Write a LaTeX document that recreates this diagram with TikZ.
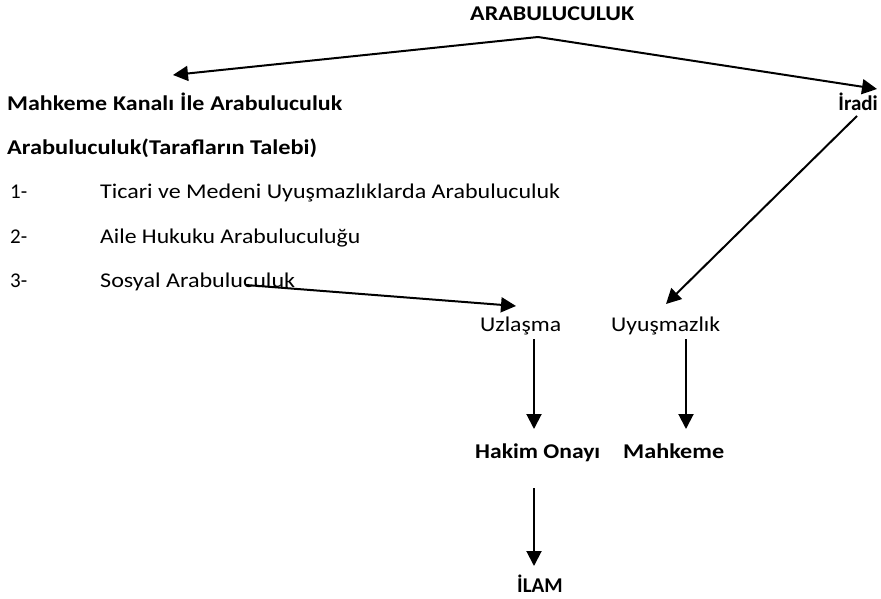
\documentclass[tikz,border=0pt]{standalone}
\usepackage{fontspec}
\setmainfont{Carlito}
\usepackage{graphicx}
\usetikzlibrary{arrows.meta,calc}
\newcommand\fitw[2]{\resizebox{#1pt}{\height}{#2}}
\begin{document}
\begin{tikzpicture}[x=1pt,y=-1pt,
  lbl/.style={inner sep=0pt,anchor=base west,font=\fontsize{21}{25}\selectfont},
  blbl/.style={inner sep=0pt,anchor=base west,font=\fontsize{21}{25}\selectfont\bfseries},
  arr/.style={line width=2pt,-{Triangle[length=15pt,width=15pt]}}]
\useasboundingbox (0,0) rectangle (881,599);
\node[blbl] (top) at (470,21) {\fitw{164}{ARABULUCULUK}};
\node[blbl] (mk) at (7,111) {\fitw{335}{Mahkeme\hspace{0.25em}Kanalı\hspace{0.25em}İle\hspace{0.25em}Arabuluculuk}};
\node[blbl,anchor=base east] (ir) at (878,111) {İradi};
\node[blbl] (tt) at (7,155) {\fitw{310}{Arabuluculuk(Tarafların Talebi)}};
\node[lbl] (n1) at (10,198) {1-};
\node[lbl] (t1) at (100,198) {\fitw{460}{Ticari ve Medeni Uyuşmazlıklarda Arabuluculuk}};
\node[lbl] (n2) at (10,243) {2-};
\node[lbl] (t2) at (100,243) {\scalebox{1.13}[1]{Aile Hukuku Arabuluculuğu}};
\node[lbl] (n3) at (10,287) {3-};
\node[lbl] (t3) at (100,287) {\fitw{195}{Sosyal Arabuluculuk}};
\node[lbl] (uz) at (480,331) {\fitw{81}{Uzlaşma}};
\node[lbl] (uy) at (611,331) {\fitw{109}{Uyuşmazlık}};
\node[blbl] (ho) at (475,458) {\fitw{125}{Hakim Onayı}};
\node[blbl] (mh) at (623,458) {\fitw{101}{Mahkeme}};
\node[blbl,anchor=base] (il) at (540,592) {İLAM};
\coordinate (apex) at (538,37);
\coordinate (lt) at (173,75);
\coordinate (rt) at (877,89);
\coordinate (irs) at (857,116);
\coordinate (uye) at (666,304);
\coordinate (t3s) at (246,285);
\coordinate (uze) at (516,306);
\coordinate (uzs) at (534,339);
\coordinate (hoe) at (534,429);
\coordinate (uys) at (686,339);
\coordinate (mhe) at (686,429);
\coordinate (hos) at (534,488);
\coordinate (ile) at (534,566);
\draw[arr] (apex) -- (lt);
\draw[arr] (apex) -- (rt);
\draw[arr] (irs) -- (uye);
\draw[arr] (t3s) -- (uze);
\draw[arr] (uzs) -- (hoe);
\draw[arr] (uys) -- (mhe);
\draw[arr] (hos) -- (ile);
\end{tikzpicture}
\end{document}
